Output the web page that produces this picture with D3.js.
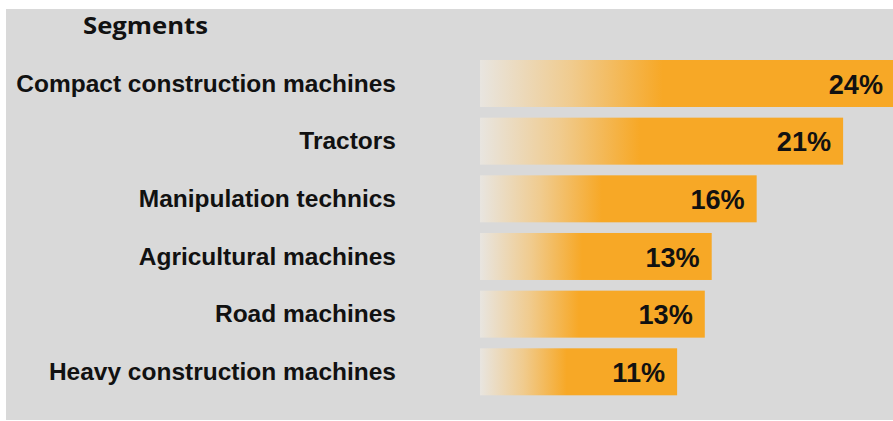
<!DOCTYPE html>
<html>
<head>
<meta charset="utf-8">
<script src="https://cdn.jsdelivr.net/npm/d3@7"></script>
<style>
  html, body { margin: 0; padding: 0; background: #ffffff; }
  svg { display: block; }
</style>
</head>
<body>
<div id="chart"></div>
<script>
const title = "Segments";
const categories = [
  "Compact construction machines",
  "Tractors",
  "Manipulation technics",
  "Agricultural machines",
  "Road machines",
  "Heavy construction machines"
];
const shares = [24, 21, 16, 13.4, 13, 11.4];

const W = 893, H = 421;
const svg = d3.select("#chart").append("svg").attr("width", W).attr("height", H);

// panel background
svg.append("rect").attr("x", 6).attr("y", 9).attr("width", W - 6).attr("height", 411).attr("fill", "#d9d9d9");

const defs = svg.append("defs");
const grad = defs.append("linearGradient").attr("id", "barGrad")
  .attr("x1", "0%").attr("x2", "100%").attr("y1", "0%").attr("y2", "0%");
grad.append("stop").attr("offset", "0%").attr("stop-color", "#e8e5e0");
grad.append("stop").attr("offset", "22%").attr("stop-color", "#f0cb8e");
grad.append("stop").attr("offset", "44%").attr("stop-color", "#f7a826");
grad.append("stop").attr("offset", "100%").attr("stop-color", "#f7a826");

const x = d3.scaleLinear().domain([0, 24]).range([480, 895]);
const y = d3.scaleBand().domain(categories).range([60, 395.3]).paddingInner(0.185).paddingOuter(0);

const data = categories.map((c, i) => ({ c, v: shares[i] }));

svg.append("g").selectAll("rect").data(data).join("rect")
  .attr("x", x(0))
  .attr("y", d => y(d.c))
  .attr("width", d => x(d.v) - x(0))
  .attr("height", y.bandwidth())
  .attr("fill", "url(#barGrad)");

// helper: horizontally scale text to a factor
function stretch(sel, fx) {
  sel.each(function () {
    const t = d3.select(this);
    const tx = +t.attr("data-x"), ty = +t.attr("data-y");
    t.attr("transform", `translate(${tx},${ty}) scale(${fx},1)`);
  });
}

// category labels
const labels = svg.append("g").selectAll("text").data(data).join("text")
  .attr("data-x", 396)
  .attr("data-y", d => y(d.c) + y.bandwidth() / 2)
  .attr("text-anchor", "end")
  .attr("dy", "0.36em")
  .attr("font-family", "'Liberation Sans', Arial, sans-serif")
  .attr("font-weight", "bold")
  .attr("font-size", 23)
  .attr("fill", "#111")
  .text(d => d.c);
const w0 = labels.node().getComputedTextLength();
stretch(labels, 380 / w0);

// value labels
const fmt = v => d3.format(".0f")(v) + "%";
const vals = svg.append("g").selectAll("text").data(data).join("text")
  .attr("data-x", d => x(d.v) - 12)
  .attr("data-y", d => y(d.c) + y.bandwidth() / 2)
  .attr("text-anchor", "end")
  .attr("dy", "0.36em")
  .attr("font-family", "'Liberation Sans', Arial, sans-serif")
  .attr("font-weight", "bold")
  .attr("font-size", 28.5)
  .attr("fill", "#111")
  .text(d => fmt(d.v));
const wv = vals.node().getComputedTextLength();
stretch(vals, 54.3 / wv);

// title
const tt = svg.append("text")
  .attr("data-x", 83).attr("data-y", 34)
  .attr("font-family", "'Open Sans', Lato, sans-serif")
  .attr("font-weight", "bold")
  .attr("font-size", 24)
  .attr("fill", "#111")
  .text(title);
const wt = tt.node().getComputedTextLength();
stretch(tt, 125 / wt);
</script>
</body>
</html>
